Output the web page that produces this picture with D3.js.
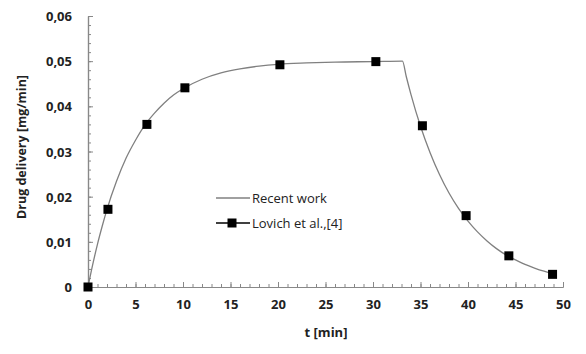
<!DOCTYPE html>
<html>
<head>
<meta charset="utf-8">
<script src="https://cdn.jsdelivr.net/npm/d3@7"></script>
<style>
  html, body { margin: 0; padding: 0; background: #fff; }
  svg { display: block; }
  .tick text { font-family: "Open Sans", "Noto Sans", sans-serif; font-weight: bold; font-size: 13px; fill: #222; }
</style>
</head>
<body>
<svg id="chart" width="586" height="354"></svg>
<script>
// ---- Data ----
// "Recent work" model curve
const curveT = [0, 0.5, 1, 1.5, 2, 3, 4, 5, 6, 7, 8, 9, 10, 12, 14, 16, 18, 20, 23, 26, 30, 33.1,
                33.5, 34, 35, 36, 37, 38, 39, 40, 41, 42, 43, 44, 45, 46, 47, 48, 49];
const curveV = [0, 0.0050, 0.0095, 0.0135, 0.0172, 0.0234, 0.0285, 0.0325, 0.0359, 0.0385, 0.0407, 0.0425, 0.0439,
                0.0460, 0.0474, 0.0483, 0.0489, 0.0493, 0.0496, 0.0498, 0.0499, 0.0500,
                0.0466, 0.0426, 0.0356, 0.0298, 0.0249, 0.0208, 0.0174, 0.0146, 0.0122, 0.0102,
                0.0085, 0.0071, 0.0060, 0.0050, 0.0042, 0.0035, 0.0029];
// "Lovich et al.,[4]" data points
const lovichT = [0, 2.1, 6.2, 10.2, 20.2, 30.3, 35.2, 39.8, 44.3, 48.9];
const lovichV = [0, 0.0172, 0.0360, 0.0441, 0.0492, 0.0499, 0.0357, 0.0158, 0.0069, 0.0028];

const xTicks = [0, 5, 10, 15, 20, 25, 30, 35, 40, 45, 50];
const yTicks = [0, 0.01, 0.02, 0.03, 0.04, 0.05, 0.06];
const yTickLabels = ["0", "0,01", "0,02", "0,03", "0,04", "0,05", "0,06"];
const seriesNames = ["Recent work", "Lovich et al.,[4]"];
const xTitle = "t [min]";
const yTitle = "Drug delivery [mg/min]";

// ---- Drawing ----
const svg = d3.select("#chart");
const x = d3.scaleLinear().domain([0, 50]).range([88, 563]);
const y = d3.scaleLinear().domain([0, 0.06]).range([287, 16]);
const axisColor = "#888";

// minor ticks
const xMinor = d3.range(0, 51, 1);
const yMinor = d3.range(0, 31).map(i => i * 0.002);

const gxMinor = svg.append("g").attr("transform", `translate(0,${y(0)})`)
  .call(d3.axisBottom(x).tickValues(xMinor).tickSizeInner(-3).tickSizeOuter(0).tickFormat(""));
const gyMinor = svg.append("g").attr("transform", `translate(${x(0)},0)`)
  .call(d3.axisLeft(y).tickValues(yMinor).tickSizeInner(-3).tickSizeOuter(0).tickFormat(""));

const gx = svg.append("g").attr("transform", `translate(0,${y(0)})`)
  .call(d3.axisBottom(x).tickValues(xTicks).tickSizeInner(-5).tickSizeOuter(0).tickPadding(13).tickFormat(d => String(d)));
const gy = svg.append("g").attr("transform", `translate(${x(0)},0)`)
  .call(d3.axisLeft(y).tickValues(yTicks).tickSizeInner(-5).tickSizeOuter(0).tickPadding(16)
        .tickFormat((d, i) => yTickLabels[i]));

[gxMinor, gyMinor, gx, gy].forEach(g => {
  g.selectAll("path.domain").attr("stroke", axisColor).attr("stroke-width", 1.2);
  g.selectAll(".tick line").attr("stroke", axisColor).attr("stroke-width", 1);
});
gy.selectAll(".tick text").attr("dy", "0.35em");

// curve
const line = d3.line().x((d, i) => x(curveT[i])).y((d, i) => y(curveV[i])).curve(d3.curveMonotoneX);
svg.append("path").datum(curveV).attr("d", line)
  .attr("fill", "none").attr("stroke", "#808080").attr("stroke-width", 1.3);

// markers
const ms = 9;
svg.append("g").selectAll("rect").data(lovichV).join("rect")
  .attr("x", (d, i) => x(lovichT[i]) - ms / 2)
  .attr("y", d => y(d) - ms / 2)
  .attr("width", ms).attr("height", ms).attr("fill", "#000");

// axis titles
svg.append("text").attr("x", 326).attr("y", 337).attr("text-anchor", "middle")
  .style("font-family", "'Open Sans', sans-serif").style("font-weight", "bold").style("font-size", "13px")
  .attr("fill", "#222").text(xTitle);
svg.append("text").attr("transform", "translate(26,147) rotate(-90)").attr("text-anchor", "middle")
  .style("font-family", "'Open Sans', sans-serif").style("font-weight", "bold").style("font-size", "12.5px")
  .attr("fill", "#222").text(yTitle);

// legend
const lg = svg.append("g").style("font-family", "'Open Sans', sans-serif").style("font-size", "13px");
lg.append("line").attr("x1", 216).attr("x2", 250).attr("y1", 198).attr("y2", 198)
  .attr("stroke", "#808080").attr("stroke-width", 1.3);
lg.append("text").attr("x", 252).attr("y", 198).attr("dy", "0.35em").attr("fill", "#222").text(seriesNames[0]);
lg.append("line").attr("x1", 216).attr("x2", 250).attr("y1", 223).attr("y2", 223)
  .attr("stroke", "#000").attr("stroke-width", 1.3);
lg.append("rect").attr("x", 232 - ms / 2).attr("y", 223 - ms / 2).attr("width", ms).attr("height", ms).attr("fill", "#000");
lg.append("text").attr("x", 252).attr("y", 223).attr("dy", "0.35em").attr("fill", "#222").text(seriesNames[1]);
</script>
</body>
</html>
